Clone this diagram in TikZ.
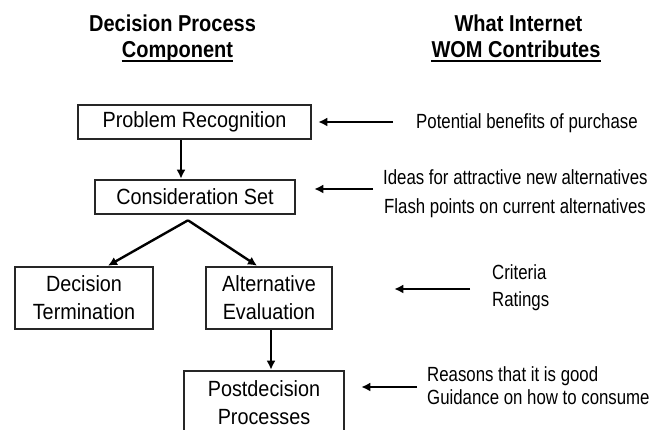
\documentclass[tikz,border=0pt]{standalone}
\usepackage{fontspec}
\setmainfont{Liberation Sans}
\newfontfamily\boxfont[FakeStretch=0.9]{Liberation Sans}
\newfontfamily\sidefont[FakeStretch=0.82]{Liberation Sans}
\newfontfamily\titlefont[FakeStretch=0.87]{Liberation Sans Bold}
\usetikzlibrary{arrows.meta}
\tikzset{
  stepbox/.style={draw=black!85, line width=2.6pt, inner sep=0pt, align=center,
    font=\boxfont\fontsize{22}{28}\selectfont},
  arr/.style={line width=2.4pt, -{Latex[length=9pt,width=9pt]}},
  sidetext/.style={inner sep=0pt, anchor=base west, font=\sidefont\fontsize{20.5}{23}\selectfont},
  titletext/.style={inner sep=0pt, anchor=base, font=\titlefont\fontsize{23}{26}\selectfont},
}
\begin{document}
\begin{tikzpicture}[x=1pt,y=-1pt]
\useasboundingbox (0,0) rectangle (649,430);
\fill[white] (0,0) rectangle (649,430);
\clip (0,0) rectangle (649,430);

% titles
\node[titletext] (t1) at (172.5,31.5) {Decision Process};
\node[titletext] (t2) at (177.5,58) {Component};
\node[titletext] (t3) at (518.5,31.5) {What Internet};
\node[titletext] (t4) at (516,58) {WOM Contributes};
\draw[line width=1.6pt] ([yshift=-3.2pt]t2.base west) -- ([yshift=-3.2pt]t2.base east);
\draw[line width=1.6pt] ([yshift=-3.2pt]t4.base west) -- ([yshift=-3.2pt]t4.base east);

% boxes
\node[stepbox, minimum width=233pt, minimum height=34pt] (pr) at (194.5,122) {Problem Recognition};
\node[stepbox, minimum width=200pt, minimum height=34pt] (cs) at (195,197) {Consideration Set};
\node[stepbox, minimum width=138pt, minimum height=62pt] (dt) at (84,298) {Decision\\Termination};
\node[stepbox, minimum width=126pt, minimum height=62pt] (ae) at (269,298) {Alternative\\Evaluation};
\node[stepbox, minimum width=160pt, minimum height=64pt] (pd) at (264,403) {Postdecision\\Processes};

% flow connectors
\draw[arr] ([xshift=-13.5pt]pr.south) -- ([xshift=-13.5pt]pr.south |- cs.north);
\coordinate (apex) at ([xshift=-7pt,yshift=-5pt]cs.south);
\draw[arr] (apex) -- ([xshift=24pt]dt.north);
\draw[arr] (apex) -- ([xshift=-12pt]ae.north);
\draw[arr] ([xshift=2pt]ae.south) -- ([xshift=2pt]ae.south |- pd.north);

% side texts
\node[sidetext] (s1) at (416,129) {Potential benefits of purchase};
\node[sidetext] (s2) at (383,185) {Ideas for attractive new alternatives};
\node[sidetext] (s3) at (384,214) {Flash points on current alternatives};
\node[sidetext] (s4) at (492,280) {Criteria};
\node[sidetext] (s5) at (492,307) {Ratings};
\node[sidetext] (s6) at (427,382) {Reasons that it is good};
\node[sidetext] (s7) at (427,405) {Guidance on how to consume};

% side arrows
\coordinate (a1) at (393,122);
\coordinate (a2) at (373,189);
\coordinate (a3) at (470,289);
\coordinate (a4) at (417,387);
\draw[arr] (a1) -- ([xshift=6pt]a1 -| pr.east);
\draw[arr] (a2) -- ([xshift=18pt]a2 -| cs.east);
\draw[arr] (a3) -- ([xshift=61pt]a3 -| ae.east);
\draw[arr] (a4) -- ([xshift=16pt]a4 -| pd.east);
\end{tikzpicture}
\end{document}
